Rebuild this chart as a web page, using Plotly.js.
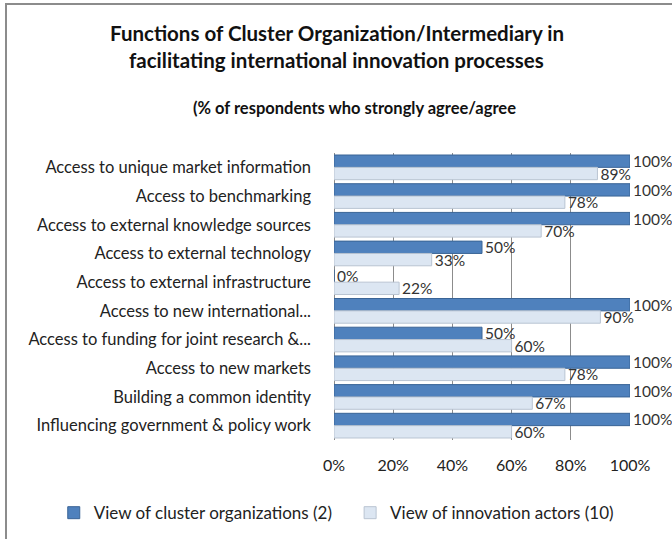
<!DOCTYPE html>
<html>
<head>
<meta charset="utf-8">
<script src="https://cdn.plot.ly/plotly-3.0.1.min.js"></script>
<style>
  body { margin: 0; background: #fff; }
  #chart { width: 672px; height: 539px; }
  #frame {
    position: absolute; left: 5px; top: 3px; width: 667px; height: 536px;
    border-left: 2px solid #8c8c8c; border-top: 2px solid #8c8c8c;
    pointer-events: none;
  }
</style>
</head>
<body>
<div id="chart"></div>
<div id="frame"></div>
<script>
// categories, top to bottom
const functions = [
    "Access to unique market information",
    "Access to benchmarking",
    "Access to external knowledge sources",
    "Access to external technology",
    "Access to external infrastructure",
    "Access to new international...",
    "Access to funding for joint research &...",
    "Access to new markets",
    "Building a common identity",
    "Influencing government & policy work"
];

// % who strongly agree / agree
const clusterOrgs = [100, 100, 100, 50, 0, 100, 50, 100, 100, 100];
const innovationActors = [89, 78, 70, 33, 22, 90, 60, 78, 67, 60];

const xTicks = [0, 20, 40, 60, 80, 100];
const xTickText = ["0%", "20%", "40%", "60%", "80%", "100%"];

const fam = "Lato, 'Open Sans', sans-serif";
const labelFont = { family: fam, size: 15.5, color: "#333" };

const traces = [
    {
        type: "bar",
        orientation: "h",
        name: "View of cluster organizations (2)",
        legend: "legend",
        y: functions,
        x: clusterOrgs,
        text: clusterOrgs.map(v => v + "%"),
        textposition: "outside",
        constraintext: "none",
        cliponaxis: false,
        textfont: labelFont,
        marker: { color: "#4f81bd", line: { color: "#3a6496", width: 1 } }
    },
    {
        type: "bar",
        orientation: "h",
        name: "View of innovation actors (10)",
        legend: "legend2",
        y: functions,
        x: innovationActors,
        text: innovationActors.map(v => v + "%"),
        textposition: "outside",
        constraintext: "none",
        cliponaxis: false,
        textfont: labelFont,
        marker: { color: "#dce6f2", line: { color: "#b9c4d2", width: 1 } }
    }
];

const legendFont = { family: fam, size: 17, color: "#222" };

const layout = {
    width: 672,
    height: 539,
    paper_bgcolor: "#fff",
    plot_bgcolor: "#fff",
    font: { family: fam, size: 15, color: "#222" },
    annotations: [
        {
            text: "<b>Functions of Cluster Organization/Intermediary in</b>",
            xref: "paper", yref: "paper", x: 0.01, y: 1, yshift: 120,
            xanchor: "center", yanchor: "middle", showarrow: false,
            font: { family: fam, size: 20.5, color: "#111" }
        },
        {
            text: "<b>facilitating international innovation processes</b>",
            xref: "paper", yref: "paper", x: 0.01, y: 1, yshift: 93,
            xanchor: "center", yanchor: "middle", showarrow: false,
            font: { family: fam, size: 20.5, color: "#111" }
        },
        {
            text: "<b>(% of respondents who strongly agree/agree</b>",
            xref: "paper", yref: "paper", x: 0.07, y: 1, yshift: 45,
            xanchor: "center", yanchor: "middle", showarrow: false,
            font: { family: fam, size: 16.5, color: "#111" }
        }
    ],
    margin: { l: 334, r: 42, t: 153, b: 99 },
    barmode: "group",
    bargap: 0.14,
    bargroupgap: 0,
    xaxis: {
        range: [0, 100],
        tickvals: xTicks,
        ticktext: xTickText,
        showgrid: true,
        gridcolor: "#8c8c8c",
        gridwidth: 1,
        zeroline: true,
        zerolinecolor: "#8c8c8c",
        showline: false,
        ticks: "",
        ticklabelstandoff: 14,
        tickfont: { family: fam, size: 16, color: "#222" }
    },
    yaxis: {
        autorange: "reversed",
        ticks: "",
        showline: false,
        ticklabelstandoff: 22,
        tickfont: { family: fam, size: 16.5, color: "#222" }
    },
    showlegend: true,
    legend: {
        orientation: "h",
        xref: "container", x: 0.08, xanchor: "left",
        yref: "container", y: 0.048, yanchor: "middle",
        font: legendFont,
        itemwidth: 30
    },
    legend2: {
        orientation: "h",
        xref: "container", x: 0.521, xanchor: "left",
        yref: "container", y: 0.048, yanchor: "middle",
        font: legendFont,
        itemwidth: 30
    }
};

Plotly.newPlot("chart", traces, layout, { displayModeBar: false });
</script>
</body>
</html>
